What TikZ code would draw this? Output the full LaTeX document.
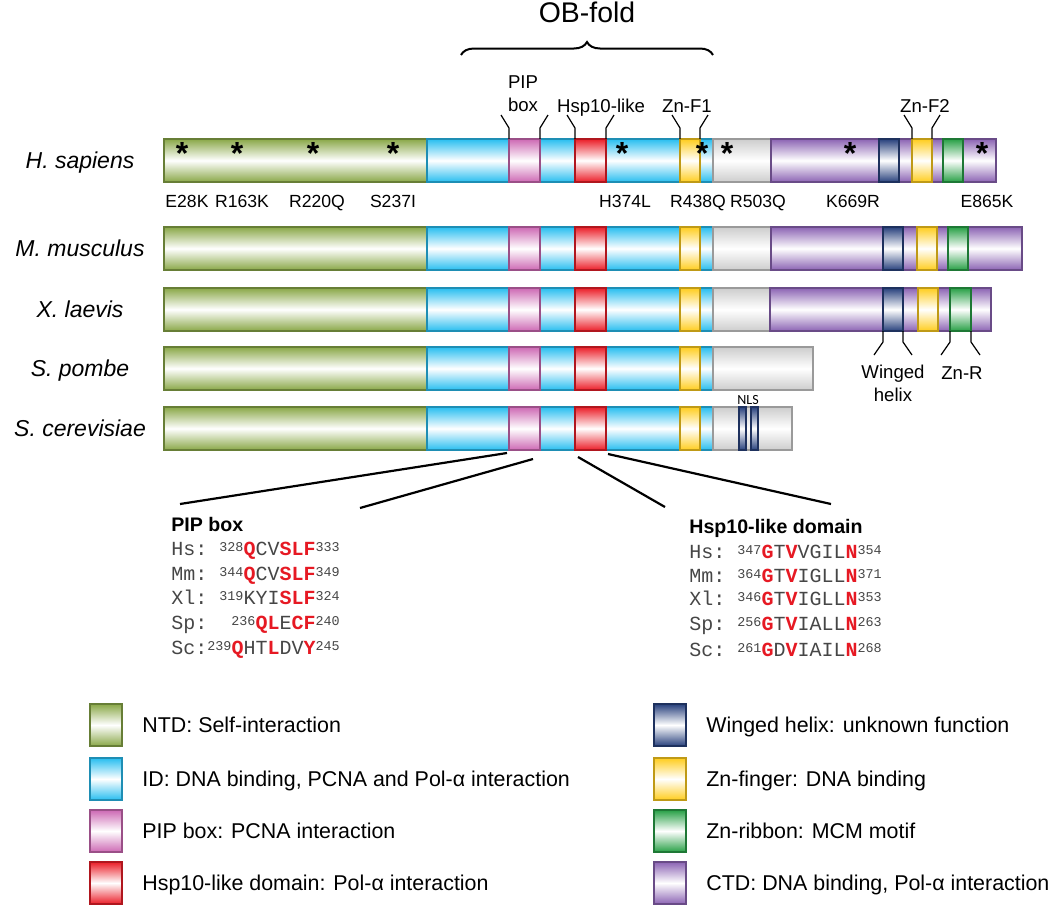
\documentclass[tikz,border=0pt]{standalone}
\usepackage{fontspec}
\setmainfont{Liberation Sans}
\setmonofont{Liberation Mono}
\newfontfamily\nlsfont{Carlito}
\usetikzlibrary{positioning, decorations.pathreplacing}

\definecolor{ntdgreen}{RGB}{138,168,72}
\definecolor{idblue}{RGB}{40,190,240}
\definecolor{pippink}{RGB}{205,105,180}
\definecolor{hspred}{RGB}{235,30,40}
\definecolor{whnavy}{RGB}{40,65,125}
\definecolor{znyellow}{RGB}{255,205,30}
\definecolor{zngreen}{RGB}{40,160,70}
\definecolor{ctdpurple}{RGB}{140,100,180}
\definecolor{tailgrey}{RGB}{205,205,205}
\definecolor{seqred}{RGB}{230,25,35}
\definecolor{seqgrey}{RGB}{70,70,70}

\newcommand{\hl}[1]{\textcolor{seqred}{\textbf{#1}}}
\newcommand{\sups}[1]{\raisebox{2pt}{\fontsize{6.7}{7}\selectfont #1}}
\newcommand{\dom}[5]{\node[dom=#5, minimum width={(#3-#2)*0.5pt}, anchor=north west] (#1) at (#2,#4) {};}

\begin{document}
\begin{tikzpicture}[x=0.5pt, y=-0.5pt, node distance=10pt,
    dom/.style={rectangle, inner sep=0pt, outer sep=0pt, minimum height=21.5pt,
      line width=0.6pt, draw=#1!75!black, top color=#1, bottom color=#1, middle color=white}]
  \tikzstyle{species} = [anchor=base, font=\fontsize{11.5}{13}\selectfont]
  \tikzstyle{mutstar} = [anchor=base, inner sep=0pt, font=\fontsize{16}{16}\selectfont\bfseries]
  \tikzstyle{mut} = [anchor=base, inner sep=0pt, font=\fontsize{8.8}{10}\selectfont]
  \tikzstyle{lab} = [inner sep=0pt, font=\fontsize{9.3}{11.5}\selectfont]
  \tikzstyle{tick} = [line width=0.6pt]
  \tikzstyle{zoomline} = [line width=1.1pt]
  \tikzstyle{seqttl} = [anchor=base west, inner sep=0pt, font=\fontsize{9.8}{12}\selectfont\bfseries]
  \tikzstyle{seq} = [anchor=base west, inner sep=0pt, text=seqgrey, font=\fontsize{10}{12}\ttfamily]
  \tikzstyle{swatch} = [minimum width=16pt, minimum height=21pt, anchor=center]
  \tikzstyle{key} = [inner sep=0pt, text height=7.7pt, text depth=0pt, font=\fontsize{10.7}{13}\selectfont]
  \useasboundingbox (0,0) rectangle (1050,906);

  \foreach \org/\yy/\nm in {hs/139/H. sapiens, mm/227/M. musculus, xl/288/X. laevis, sp/347/S. pombe, sc/407/S. cerevisiae}{
    \node[species] (\org-name) at (80,\yy+29) {\textit{\nm}};
    \dom{\org-ntd}{164}{427}{\yy}{ntdgreen}
    \dom{\org-id}{427}{713}{\yy}{idblue}
    \dom{\org-pip}{509}{540}{\yy}{pippink}
    \dom{\org-hsp}{575}{606}{\yy}{hspred}
    \dom{\org-znf}{680}{700}{\yy}{znyellow}
  }
  \dom{hs-tail}{713}{771}{139}{tailgrey}
  \dom{hs-ctd}{771}{996}{139}{ctdpurple}
  \dom{hs-wh}{879}{899}{139}{whnavy}
  \dom{hs-znf2}{912}{932}{139}{znyellow}
  \dom{hs-znr}{943}{963}{139}{zngreen}
  \dom{mm-tail}{713}{771}{227}{tailgrey}
  \dom{mm-ctd}{771}{1022}{227}{ctdpurple}
  \dom{mm-wh}{883}{903}{227}{whnavy}
  \dom{mm-znf2}{917}{937}{227}{znyellow}
  \dom{mm-znr}{948}{968}{227}{zngreen}
  \dom{xl-tail}{713}{770}{288}{tailgrey}
  \dom{xl-ctd}{770}{991}{288}{ctdpurple}
  \dom{xl-wh}{883}{903}{288}{whnavy}
  \dom{xl-znf2}{918}{938}{288}{znyellow}
  \dom{xl-znr}{950}{971}{288}{zngreen}
  \dom{sp-tail}{713}{813}{347}{tailgrey}
  \dom{sc-tail}{713}{792}{407}{tailgrey}
  \dom{sc-nls1}{739}{746}{407}{whnavy}
  \dom{sc-nls2}{751}{758}{407}{whnavy}
  \node[inner sep=0pt, font=\nlsfont\fontsize{7}{8}\selectfont] (nls-lab) at (748,400) {NLS};

  \foreach \sx in {182,237,313,393,622,702,727,850,982}
    \node[mutstar] (star-\sx) at (\sx,164) {*};
  \foreach \mx/\mt in {187/E28K, 242/R163K, 317/R220Q, 393/S237I, 625/H374L, 698/R438Q, 758/R503Q, 853/K669R, 987/E865K}
    \node[mut] (mut-\mt) at (\mx,207) {\mt};

  \foreach \d in {pip,hsp,znf,znf2}{
    \draw[tick] (hs-\d.north west) -- ++(0,-11) -- ++(-8,-13);
    \draw[tick] (hs-\d.north east) -- ++(0,-11) -- ++(8,-13);
  }
  \node[lab, align=center] (lab-pip) at (523,94) {PIP\\box};
  \node[lab, anchor=base] (lab-hsp) at (601,112) {Hsp10-like};
  \node[lab, anchor=base] (lab-znf1) at (687,112) {Zn-F1};
  \node[lab, anchor=base] (lab-znf2) at (925,112) {Zn-F2};

  \coordinate (ob-l) at (461,55);
  \coordinate (ob-r) at (713,55);
  \draw[line width=1pt, decorate, decoration={brace, amplitude=6.5pt}] (ob-l) -- (ob-r);
  \node[anchor=base, inner sep=0pt, font=\fontsize{14.2}{16}\selectfont] (ob-lab) at (587,22) {OB-fold};

  \foreach \d in {wh,znr}{
    \draw[tick] (xl-\d.south west) -- ++(0,11) -- ++(-9,13);
    \draw[tick] (xl-\d.south east) -- ++(0,11) -- ++(9,13);
  }
  \node[lab, align=center] (lab-wh) at (893,383) {Winged\\helix};
  \node[lab, anchor=base] (lab-znr) at (962,379) {Zn-R};

  \node[seqttl] (pip-ttl) at (171,531) {PIP box};
  \node[seq] (pip-hs) at (171,555) {Hs:~\sups{328}\hl{Q}CV\hl{SLF}\sups{333}};
  \node[seq] (pip-mm) at (171,580) {Mm:~\sups{344}\hl{Q}CV\hl{SLF}\sups{349}};
  \node[seq] (pip-xl) at (171,604) {Xl:~\sups{319}KYI\hl{SLF}\sups{324}};
  \node[seq] (pip-sp) at (171,629) {Sp:~~\sups{236}\hl{QL}E\hl{CF}\sups{240}};
  \node[seq] (pip-sc) at (171,654) {Sc:\sups{239}\hl{Q}HT\hl{L}DV\hl{Y}\sups{245}};

  \node[seqttl] (hsp-ttl) at (689,533) {Hsp10-like domain};
  \node[seq] (hsp-hs) at (689,558) {Hs:~\sups{347}\hl{G}T\hl{V}VGIL\hl{N}\sups{354}};
  \node[seq] (hsp-mm) at (689,582) {Mm:~\sups{364}\hl{G}T\hl{V}IGLL\hl{N}\sups{371}};
  \node[seq] (hsp-xl) at (689,605) {Xl:~\sups{346}\hl{G}T\hl{V}IGLL\hl{N}\sups{353}};
  \node[seq] (hsp-sp) at (689,630) {Sp:~\sups{256}\hl{G}T\hl{V}IALL\hl{N}\sups{263}};
  \node[seq] (hsp-sc) at (689,656) {Sc:~\sups{261}\hl{G}D\hl{V}IAIL\hl{N}\sups{268}};

  \coordinate (pipz-l) at (180,504);
  \coordinate (pipz-r) at (360,508);
  \coordinate (hspz-l) at (665,507);
  \coordinate (hspz-r) at (831,504);
  \draw[zoomline] ([shift={(-2,3)}]sc-pip.south west) -- (pipz-l);
  \draw[zoomline] ([shift={(-7,9)}]sc-pip.south east) -- (pipz-r);
  \draw[zoomline] ([shift={(3,7)}]sc-hsp.south west) -- (hspz-l);
  \draw[zoomline] ([shift={(2,4)}]sc-hsp.south east) -- (hspz-r);

  \node[dom=ntdgreen, swatch] (key-ntd) at (106,725) {};
  \node[key, right=of key-ntd] (keytxt-ntd) {NTD: Self-interaction};
  \node[dom=idblue, swatch] (key-id) at (106,779) {};
  \node[key, right=of key-id] (keytxt-id) {ID: DNA binding, PCNA and Pol-α interaction};
  \node[dom=pippink, swatch] (key-pip) at (106,831) {};
  \node[key, right=of key-pip] (keytxt-pip) {PIP box: PCNA interaction};
  \node[dom=hspred, swatch] (key-hsp) at (106,883) {};
  \node[key, right=of key-hsp] (keytxt-hsp) {Hsp10-like domain: Pol-α interaction};

  \node[dom=whnavy, swatch] (key-wh) at (670,725) {};
  \node[key, right=of key-wh] (keytxt-wh) {Winged helix: unknown function};
  \node[dom=znyellow, swatch] (key-znf) at (670,779) {};
  \node[key, right=of key-znf] (keytxt-znf) {Zn-finger: DNA binding};
  \node[dom=zngreen, swatch] (key-znr) at (670,831) {};
  \node[key, right=of key-znr] (keytxt-znr) {Zn-ribbon: MCM motif};
  \node[dom=ctdpurple, swatch] (key-ctd) at (670,883) {};
  \node[key, right=of key-ctd] (keytxt-ctd) {CTD: DNA binding, Pol-α interaction};
\end{tikzpicture}
\end{document}
